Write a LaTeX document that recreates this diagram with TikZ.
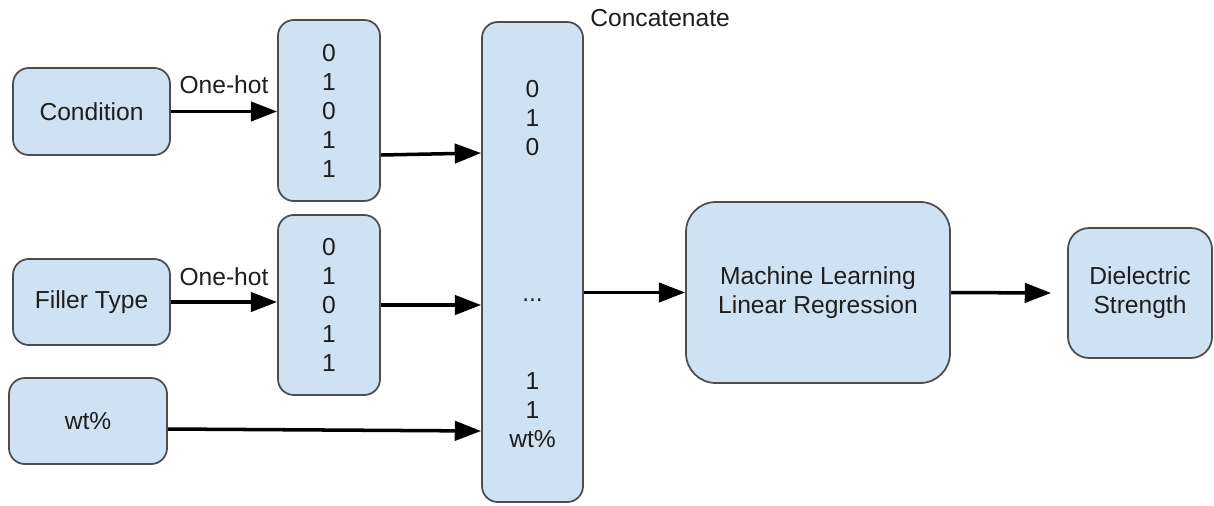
\documentclass[tikz,border=0pt]{standalone}
\usepackage{fontspec}
\setmainfont{Liberation Sans}
\usetikzlibrary{arrows.meta,calc}
\definecolor{boxfill}{HTML}{CFE2F3}
\definecolor{boxline}{HTML}{4D4D4D}
\definecolor{txt}{HTML}{1E1E1E}
\tikzset{
	box/.style={draw=boxline, fill=boxfill, line width=1pt, rounded corners=#1, align=center, text=txt, inner sep=0pt},
	box/.default=9pt,
	arr/.style={line width=2pt, -{Triangle[length=15pt,width=11pt]}},
	lbl/.style={text=txt, inner sep=0pt, align=center}
}

\begin{document}
\begin{tikzpicture}[font=\fontsize{14}{16.5}\selectfont]
			%%%%% START %%%%%
			\useasboundingbox (0,0) rectangle (24.28,-10.1);
			
			\node[box, minimum width=3.14cm, minimum height=1.74cm] (cond) at (1.83,-2.23) {Condition};
			\node[box, minimum width=3.14cm, minimum height=1.72cm] (filler) at (1.83,-6.04) {Filler Type};
			\node[box, minimum width=3.16cm, minimum height=1.72cm] (wt) at (1.76,-8.42) {wt\%};
			
			\node[box, minimum width=2.04cm, minimum height=3.62cm] (vecA) at (6.58,-2.21) {0\\1\\0\\1\\1};
			\node[box, minimum width=2.04cm, minimum height=3.6cm] (vecB) at (6.58,-6.1) {0\\1\\0\\1\\1};
			
			\node[box, minimum width=2.02cm, minimum height=9.6cm] (concat) at (10.65,-5.24) {};
			\node[lbl] (ctop) at (10.65,-2.36) {0\\1\\0};
			\node[lbl] (cdots) at (10.65,-6.0) {...};
			\node[lbl] (cbot) at (10.65,-8.2) {1\\1\\wt\%};
			\node[lbl, anchor=west] (catlbl) at (11.8,-0.36) {Concatenate};
			
			\node[box=17pt, minimum width=5.28cm, minimum height=3.62cm] (ml) at (16.36,-5.85) {Machine Learning\\Linear Regression};
			\node[box=12pt, minimum width=2.88cm, minimum height=2.6cm] (diel) at (22.8,-5.86) {Dielectric\\Strength};
			
			% one-hot encoding
			\draw[arr] (cond.east) -- node[lbl, above=9pt] (ohA) {One-hot} (cond.east -| vecA.west);
			\draw[arr] (filler.east) -- node[lbl, above=8pt] (ohB) {One-hot} (filler.east -| vecB.west);
			
			% into concatenate
			\draw[arr] ([yshift=-0.89cm]vecA.east) -- ([yshift=-0.85cm]vecA.east -| concat.west);
			\draw[arr] (vecB.east) -- (vecB.east -| concat.west);
			\draw[arr] ([yshift=-0.16cm]wt.east) -- ([yshift=-0.2cm]wt.east -| concat.west);
			
			% model
			\draw[arr] (concat.east |- ml.west) -- (ml.west);
			\draw[arr] (ml.east) -- ([xshift=-0.32cm]diel.west);
			
			%%%%% END %%%%%
\end{tikzpicture}
\end{document}
